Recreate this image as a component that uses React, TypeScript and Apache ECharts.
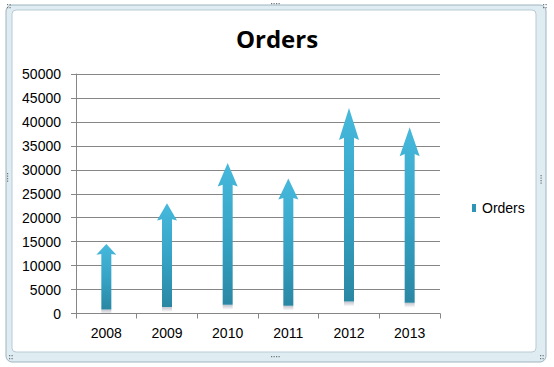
import React, { useEffect, useRef } from "react";
import * as echarts from "echarts";

const years = ["2008", "2009", "2010", "2011", "2012", "2013"];
const orders = [14500, 23000, 31400, 28200, 42900, 38900];
const yTicks = { min: 0, max: 50000, interval: 5000 };
const titleText = "Orders";
const seriesName = "Orders";

const arrowFill = new echarts.graphic.LinearGradient(0, 0, 0, 1, [
  { offset: 0, color: "#46b9dc" },
  { offset: 0.55, color: "#35a2c4" },
  { offset: 1, color: "#2a87a3" },
]);

function renderArrow(params: any, api: any) {
  const i = api.value(0);
  const v = api.value(1);
  const tip = api.coord([i, v]);
  const base = api.coord([i, 0]);
  const h = base[1] - tip[1];
  const bottom = base[1] - 0.058 * h;
  const len = bottom - tip[1];
  const headH = len * 0.165;
  const cx = tip[0];
  const sw = 5;
  const hw = 10;
  const ty = tip[1];
  return {
    type: "group",
    children: [
      {
        type: "rect",
        shape: { x: cx - sw, y: bottom, width: sw * 2, height: 5 },
        style: {
          fill: new echarts.graphic.LinearGradient(0, 0, 0, 1, [
            { offset: 0, color: "rgba(120,120,140,0.45)" },
            { offset: 1, color: "rgba(120,120,140,0)" },
          ]),
        },
      },
      {
        type: "polygon",
        shape: {
          points: [
            [cx, ty],
            [cx + hw, ty + headH],
            [cx + sw, ty + headH * 0.93],
            [cx + sw, bottom],
            [cx - sw, bottom],
            [cx - sw, ty + headH * 0.93],
            [cx - hw, ty + headH],
          ],
        },
        style: { fill: arrowFill },
      },
    ],
  };
}

function dots(x: number, y: number, n: number, vertical: boolean) {
  const out: any[] = [];
  for (let k = 0; k < n; k++) {
    out.push({
      type: "rect",
      shape: {
        x: vertical ? x : x + k * 2.5,
        y: vertical ? y + k * 2.5 : y,
        width: 1.2,
        height: 1.2,
      },
      style: { fill: "#6c777d" },
      silent: true,
    });
  }
  return out;
}

export default function App() {
  const ref = useRef<HTMLDivElement>(null);
  useEffect(() => {
    if (!ref.current) return;
    const chart = echarts.init(ref.current, null, { renderer: "svg" });
    chart.setOption({
      animation: false,
      backgroundColor: "#ffffff",
      graphic: [
        {
          type: "rect",
          z: -10,
          shape: { x: 6, y: 5, width: 540, height: 357, r: 6 },
          style: { fill: "#dfecf1", stroke: "#9fb4c0", lineWidth: 1 },
          silent: true,
        },
        {
          type: "rect",
          z: -9,
          shape: { x: 12, y: 10, width: 524, height: 342, r: 4 },
          style: { fill: "#ffffff", stroke: "#b7cbd5", lineWidth: 1 },
          silent: true,
        },
        ...dots(271, 3, 4, false),
        ...dots(271, 356, 4, false),
        ...dots(7, 173, 4, true),
        ...dots(540.5, 175, 4, true),
        ...dots(7, 4, 2, false),
        ...dots(7, 7, 2, false),
        ...dots(543, 4, 2, false),
        ...dots(543, 7, 2, false),
        ...dots(9, 355, 2, false),
        ...dots(9, 358, 2, false),
        ...dots(540, 355, 2, false),
        ...dots(540, 358, 2, false),
      ],
      title: {
        text: titleText,
        left: "center",
        top: 21,
        textStyle: {
          fontFamily: "Open Sans",
          fontWeight: "bold",
          fontSize: 24,
          color: "#000000",
        },
      },
      legend: {
        data: [seriesName],
        left: 467,
        top: 196,
        icon: "rect",
        itemWidth: 4,
        itemHeight: 8,
        itemGap: 6,
        textStyle: {
          fontFamily: "Liberation Sans",
          fontSize: 14,
          color: "#000000",
          padding: [0, 0, 0, 1],
        },
      },
      grid: { left: 76, right: 114, top: 74, bottom: 53.5, containLabel: false },
      xAxis: {
        type: "category",
        data: years,
        axisLine: { lineStyle: { color: "#868686", width: 1 } },
        axisTick: { show: true, length: 5, lineStyle: { color: "#868686" } },
        axisLabel: {
          fontFamily: "Liberation Sans",
          fontSize: 14,
          color: "#000000",
          margin: 12,
        },
        splitLine: { show: false },
      },
      yAxis: {
        type: "value",
        min: yTicks.min,
        max: yTicks.max,
        interval: yTicks.interval,
        axisLine: { show: true, lineStyle: { color: "#868686", width: 1 } },
        axisTick: { show: true, length: 5, lineStyle: { color: "#868686" } },
        axisLabel: {
          fontFamily: "Liberation Sans",
          fontSize: 14,
          color: "#000000",
          margin: 15,
          formatter: (v: number) => String(v),
        },
        splitLine: { show: true, lineStyle: { color: "#868686", width: 1 } },
      },
      series: [
        {
          name: seriesName,
          type: "custom",
          renderItem: renderArrow,
          itemStyle: { color: "#2f95b5" },
          encode: { x: 0, y: 1 },
          data: orders.map((v, i) => [i, v]),
        },
      ],
    });
    return () => chart.dispose();
  }, []);
  return (
    <div
      ref={ref}
      style={{ position: "fixed", left: 0, top: 0, width: 554, height: 367 }}
    />
  );
}
